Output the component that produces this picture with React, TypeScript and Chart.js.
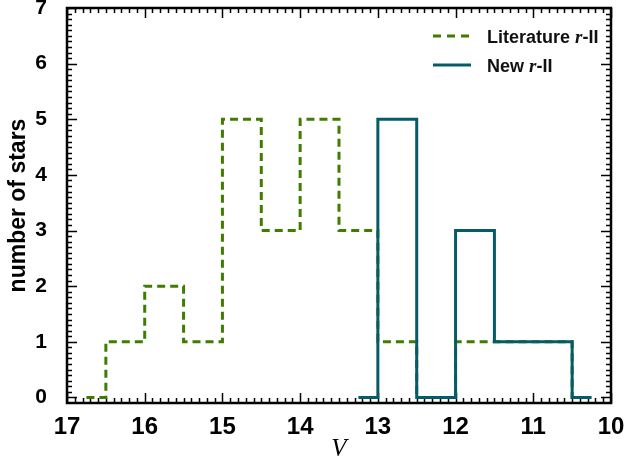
import { useEffect, useRef } from 'react';
import { Chart, registerables } from 'chart.js';
Chart.register(...registerables);

// Histogram bin edges (V magnitude) and counts; each count holds until the next edge
const litEdges = [16.75, 16.5, 16, 15.5, 15, 14.5, 14, 13.5, 13, 12.5, 12, 11.5, 11, 10.5, 10.25];
const litCounts = [0, 1, 2, 1, 5, 3, 5, 3, 1, 0, 1, 1, 1, 0, 0];
const newEdges = [13.25, 13, 12.5, 12, 11.5, 11, 10.5, 10.25];
const newCounts = [0, 5, 0, 3, 1, 1, 0, 0];
const xTicks = [17, 16, 15, 14, 13, 12, 11, 10];
const yTicks = [0, 1, 2, 3, 4, 5, 6, 7];
const legendNames = [
  ['Literature ', 'r', '-II'],
  ['New ', 'r', '-II'],
];

const GREEN = '#3f7d00';
const TEAL = '#055c68';

const framePlugin = {
  id: 'frame',
  beforeDatasetsDraw(chart: any) {
    const { ctx, chartArea, scales } = chart;
    const { left, right, top, bottom } = chartArea;
    const x = scales.x;
    const y = scales.y;
    ctx.save();
    ctx.strokeStyle = '#000';
    ctx.lineWidth = 1.5;
    ctx.beginPath();
    for (let i = 100; i <= 170; i++) {
      const px = Math.round(x.getPixelForValue(i / 10)) + 0.5;
      const len = i % 10 === 0 ? 10 : 5;
      ctx.moveTo(px, bottom);
      ctx.lineTo(px, bottom - len);
      ctx.moveTo(px, top);
      ctx.lineTo(px, top + len);
    }
    for (let i = 0; i <= 70; i++) {
      const py = Math.round(y.getPixelForValue(i / 10)) + 0.5;
      const len = i % 10 === 0 ? 10 : 5;
      ctx.moveTo(left, py);
      ctx.lineTo(left + len, py);
      ctx.moveTo(right, py);
      ctx.lineTo(right - len, py);
    }
    ctx.stroke();
    ctx.lineWidth = 2.5;
    ctx.strokeRect(left, top, right - left, bottom - top);
    ctx.restore();
  },
  afterDraw(chart: any) {
    const { ctx } = chart;
    ctx.save();
    const rows = [
      { y: 36, color: GREEN, dash: [8, 6] },
      { y: 65, color: TEAL, dash: [] as number[] },
    ];
    rows.forEach((r, i) => {
      ctx.strokeStyle = r.color;
      ctx.lineWidth = 3;
      ctx.setLineDash(r.dash);
      ctx.beginPath();
      ctx.moveTo(433, r.y);
      ctx.lineTo(471, r.y);
      ctx.stroke();
      ctx.setLineDash([]);
      ctx.fillStyle = '#111';
      ctx.textBaseline = 'alphabetic';
      let tx = 487;
      const base = r.y + 7;
      const [a, b, c] = legendNames[i];
      ctx.font = 'bold 18px "Liberation Sans"';
      ctx.fillText(a, tx, base);
      tx += ctx.measureText(a).width;
      ctx.font = 'italic bold 19px "Liberation Serif"';
      ctx.fillText(b, tx, base);
      tx += ctx.measureText(b).width;
      ctx.font = 'bold 18px "Liberation Sans"';
      ctx.fillText(c, tx, base);
    });
    ctx.restore();
  },
};

export default function App() {
  const ref = useRef<HTMLCanvasElement>(null);
  useEffect(() => {
    if (!ref.current) return;
    const chart = new Chart(ref.current, {
      type: 'line',
      data: {
        datasets: [
          {
            label: 'Literature r-II',
            data: litEdges.map((e, i) => ({ x: e, y: litCounts[i] })),
            borderColor: GREEN,
            borderWidth: 3,
            borderDash: [8, 5],
            stepped: 'before',
            pointRadius: 0,
            fill: false,
            order: 2,
          },
          {
            label: 'New r-II',
            data: newEdges.map((e, i) => ({ x: e, y: newCounts[i] })),
            borderColor: TEAL,
            borderWidth: 3,
            stepped: 'before',
            pointRadius: 0,
            fill: false,
            order: 1,
          },
        ],
      },
      options: {
        animation: false,
        responsive: true,
        maintainAspectRatio: false,
        layout: { padding: { top: 8, right: 15, left: 0, bottom: 0 } },
        plugins: { legend: { display: false }, tooltip: { enabled: false } },
        scales: {
          x: {
            type: 'linear',
            reverse: true,
            min: 10,
            max: 17,
            afterBuildTicks: (s: any) => {
              s.ticks = xTicks.map((v) => ({ value: v }));
            },
            afterFit: (s: any) => {
              s.height = 57;
              s.paddingLeft = 0;
              s.paddingRight = 0;
            },
            grid: { display: false },
            border: { display: false },
            ticks: {
              font: { family: 'Liberation Sans', weight: 'bold', size: 24, lineHeight: 1 },
              color: '#000',
              padding: 4,
              maxRotation: 0,
            },
            title: {
              display: true,
              text: 'V',
              color: '#000',
              font: { family: 'Liberation Serif', style: 'italic', size: 25, lineHeight: 1 },
              padding: { top: 0, bottom: -2 },
            },
          },
          y: {
            type: 'linear',
            min: -0.1,
            max: 7,
            afterBuildTicks: (s: any) => {
              s.ticks = yTicks.map((v) => ({ value: v }));
            },
            afterFit: (s: any) => {
              s.width = 67;
              s.paddingTop = 0;
              s.paddingBottom = 0;
            },
            grid: { display: false },
            border: { display: false },
            ticks: {
              font: { family: 'Liberation Sans', weight: 'bold', size: 21 },
              color: '#000',
              padding: 12,
            },
            title: {
              display: true,
              text: 'number of stars',
              color: '#000',
              font: { family: 'Liberation Sans', weight: 'bold', size: 23 },
              padding: { top: 5, bottom: 0 },
            },
          },
        },
      },
      plugins: [framePlugin],
    });
    return () => chart.destroy();
  }, []);
  return (
    <div style={{ position: 'fixed', left: 0, top: 0, width: 626, height: 460, background: '#fff' }}>
      <canvas ref={ref} />
    </div>
  );
}
